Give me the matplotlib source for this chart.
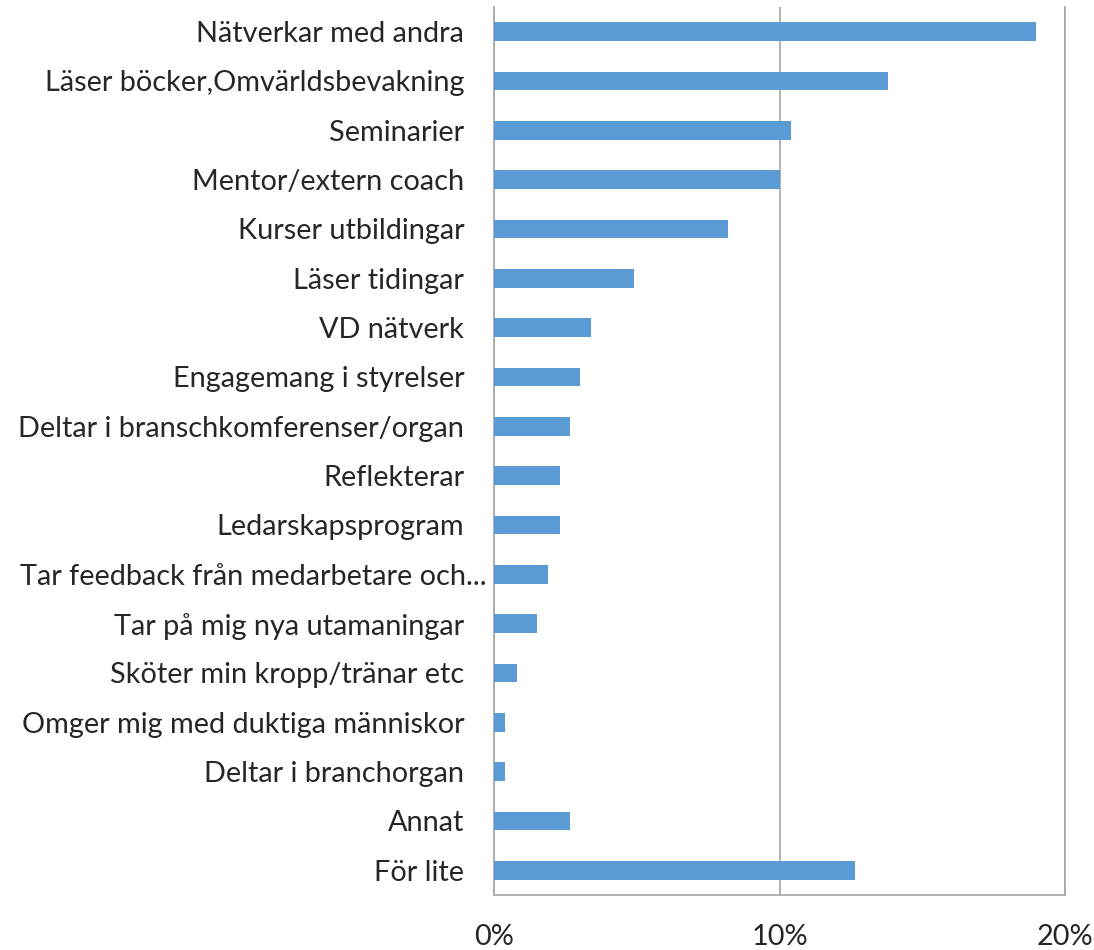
import matplotlib
matplotlib.use("Agg")
import matplotlib.pyplot as plt
from matplotlib.ticker import FuncFormatter
from matplotlib.transforms import ScaledTranslation

categories = [
    "Nätverkar med andra",
    "Läser böcker,Omvärldsbevakning",
    "Seminarier",
    "Mentor/extern coach",
    "Kurser utbildingar",
    "Läser tidingar",
    "VD nätverk",
    "Engagemang i styrelser",
    "Deltar i branschkomferenser/organ",
    "Reflekterar",
    "Ledarskapsprogram",
    "Tar feedback från medarbetare och...",
    "Tar på mig nya utamaningar",
    "Sköter min kropp/tränar etc",
    "Omger mig med duktiga människor",
    "Deltar i branchorgan",
    "Annat",
    "För lite",
]
values = [19.0, 13.8, 10.4, 10.0, 8.2, 4.9, 3.4, 3.0, 2.65, 2.3, 2.3,
          1.9, 1.5, 0.8, 0.4, 0.4, 2.65, 12.65]
xticks = [0, 10, 20]

plt.rcParams['font.family'] = ['Lato', 'DejaVu Sans']
text_color = '#262626'
grid_color = '#a6a6a6'

fig = plt.figure(figsize=(10.94, 9.5), dpi=100)
ax = fig.add_axes([494/1094, 1-895/950, (1065-494)/1094, (895-7)/950])

y = list(range(len(categories)))
ax.barh(y, values, height=0.385, color='#5b9bd5', zorder=3)
ax.set_ylim(len(categories)-0.5, -0.5)
ax.set_xlim(0, 20)
ax.set_yticks(y)
ax.set_yticklabels(categories, fontsize=20.8, color=text_color)
ax.set_xticks(xticks)
ax.xaxis.set_major_formatter(FuncFormatter(lambda v, p: f"{int(v)}%"))
ax.tick_params(axis='x', labelsize=20.8, colors=text_color, length=0, pad=21)
ax.tick_params(axis='y', length=0, pad=21.5)
ax.xaxis.grid(True, color=grid_color, linewidth=1.2, zorder=0)
for s in ['left', 'bottom', 'right']:
    ax.spines[s].set_color(grid_color)
    ax.spines[s].set_linewidth(1.2)
ax.spines['top'].set_visible(False)

# the truncated label sits closer to the axis, as in the original
lab = ax.get_yticklabels()[11]
lab.set_transform(lab.get_transform() + ScaledTranslation(22/100, 0, fig.dpi_scale_trans))

fig.savefig('out.png', dpi=100)
